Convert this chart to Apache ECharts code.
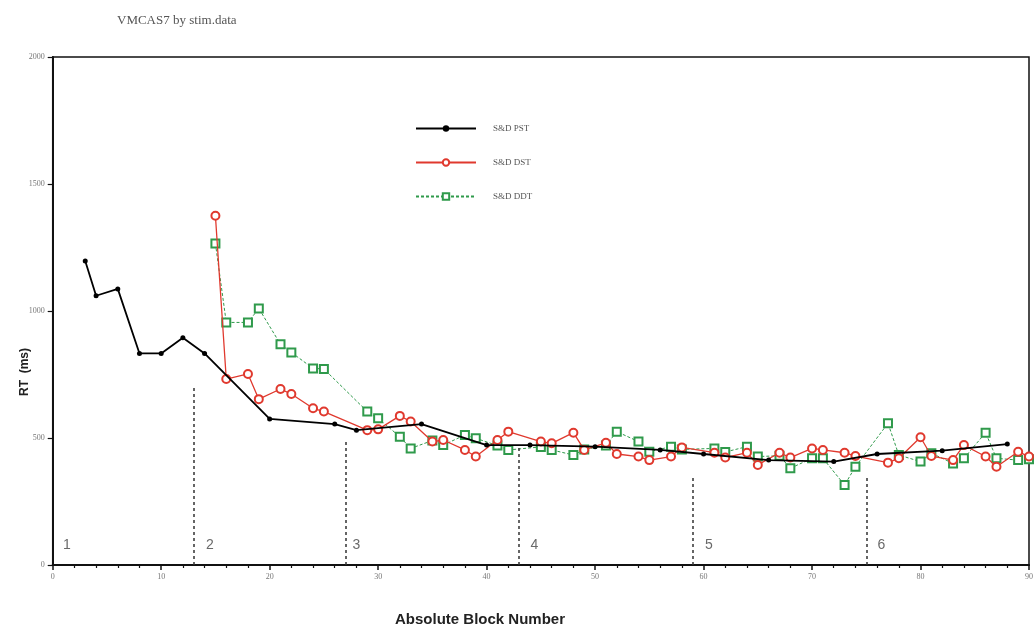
<!DOCTYPE html>
<html><head><meta charset="utf-8">
<script src="https://cdn.jsdelivr.net/npm/echarts@6/dist/echarts.min.js"></script>
<style>html,body{margin:0;padding:0;background:#fff}#c{width:1036px;height:636px}</style>
</head><body><div id="c"></div>
<script>
// ---- data ----
const pstX = [3,4,6,8,10,12,14,20,26,28,34,40,44,50,56,60,66,72,76,82,88];
const pstY = [1197,1060,1087,833,833,895,833,575,555,531,555,472,472,466,453,437,413,407,437,450,476];
const dstX = [15,16,18,19,21,22,24,25,29,30,32,33,35,36,38,39,41,42,45,46,48,49,51,52,54,55,57,58,61,62,64,65,67,68,70,71,73,74,77,78,80,81,83,84,86,87,89,90];
const dstY = [1375,732,752,653,693,673,617,604,531,534,587,565,486,492,453,427,492,525,486,479,521,453,481,437,427,413,427,463,442,423,442,394,442,423,459,453,442,429,403,420,503,429,413,472,427,387,446,427];
const ddtX = [15,16,18,19,21,22,24,25,29,30,32,33,35,36,38,39,41,42,45,46,48,49,51,52,54,55,57,58,61,62,64,65,67,68,70,71,73,74,77,78,80,81,83,84,86,87,89,90];
const ddtY = [1266,955,955,1010,869,837,774,772,604,578,505,459,490,472,512,499,470,453,465,453,433,455,470,525,486,446,466,455,459,445,466,427,430,381,420,420,315,387,558,433,407,440,400,420,521,420,413,416];
const seriesNames = ['S&D PST','S&D DST','S&D DDT'];
const dividerX = [13,27,43,59,75];
const dividerTop = [709,492,472,343,350];
const regionLabels = ['1','2','3','4','5','6'];
const regionLabelX = [1.3,14.5,28,44.4,60.5,76.4];
const regionLabelY = 80;

const zip = (xs, ys) => xs.map((x,i)=>[x, ys[i]]);

const chart = echarts.init(document.getElementById('c'));
chart.setOption({
  animation: false,
  backgroundColor: '#fff',
  title: {
    text: 'VMCAS7 by stim.data', left: 112, top: 9,
    textStyle: {fontFamily: 'Liberation Serif', fontSize: 13, fontWeight: 'normal', color: '#555'}
  },
  legend: {
    data: seriesNames, orient: 'vertical', left: 410, top: 119,
    itemWidth: 60, itemHeight: 8, itemGap: 25,
    textStyle: {fontFamily: 'Liberation Serif', fontSize: 9, color: '#555', padding: [0,0,0,12]}
  },
  grid: {left: 52.7, right: 4, top: 57, bottom: 71, show: true, borderColor: '#111', borderWidth: 1.5, backgroundColor: 'transparent'},
  xAxis: {
    type: 'value', min: 0, max: 90, interval: 10,
    axisLine: {lineStyle: {color: '#111', width: 2}},
    axisTick: {length: 5, lineStyle: {color: '#111', width: 1.5}},
    minorTick: {show: true, splitNumber: 5, length: 3, lineStyle: {color: '#111', width: 1.2}},
    splitLine: {show: false},
    axisLabel: {fontFamily: 'Liberation Serif', fontSize: 8, color: '#777', margin: 8}
  },
  yAxis: {
    type: 'value', min: 0, max: 2000, interval: 500,
    axisLine: {show: true, lineStyle: {color: '#111', width: 2}},
    axisTick: {show: true, length: 5, lineStyle: {color: '#111', width: 1.2}},
    splitLine: {show: false},
    axisLabel: {fontFamily: 'Liberation Serif', fontSize: 8, color: '#777', margin: 8, formatter: v => String(v)}
  },
  graphic: [
    {type: 'text', left: 19, top: 348, rotation: Math.PI/2,
     style: {text: 'RT  (ms)', font: 'bold 12px "Liberation Sans", Arial', fill: '#222'}},
    {type: 'text', left: 395, top: 612,
     style: {text: 'Absolute Block Number', font: 'bold 15px "Liberation Sans", Arial', fill: '#222'}}
  ],
  series: [
    {
      name: seriesNames[0], type: 'line', data: zip(pstX, pstY), z: 4,
      symbol: 'circle', symbolSize: 5,
      itemStyle: {color: '#000'},
      lineStyle: {color: '#000', width: 1.8}
    },
    {
      name: seriesNames[1], type: 'line', data: zip(dstX, dstY), z: 3,
      symbol: 'emptyCircle', symbolSize: 8,
      itemStyle: {color: '#e0392e', borderWidth: 1.6},
      lineStyle: {color: '#e0392e', width: 1.3}
    },
    {
      name: seriesNames[2], type: 'line', data: zip(ddtX, ddtY), z: 2,
      symbol: 'emptyRect', symbolSize: 8,
      itemStyle: {color: '#2f9a4b', borderWidth: 1.6},
      lineStyle: {color: '#2f9a4b', width: 1, type: [3,2]}
    },
    {
      name: 'dividers', type: 'line', data: [], silent: true,
      markLine: {
        symbol: 'none', silent: true, label: {show: false},
        lineStyle: {color: '#333', width: 1.5, type: [3,3]},
        data: dividerX.map((x,i)=>[{coord:[x,0]},{coord:[x,dividerTop[i]]}])
      }
    },
    {
      name: 'regions', type: 'scatter', symbolSize: 0, silent: true,
      data: regionLabels.map((t,i)=>({name: t, value: [regionLabelX[i], regionLabelY]})),
      label: {show: true, position: 'inside', formatter: p => p.name,
              fontFamily: 'Liberation Sans', fontSize: 14, color: '#444'}
    }
  ]
});
</script>
</body></html>
